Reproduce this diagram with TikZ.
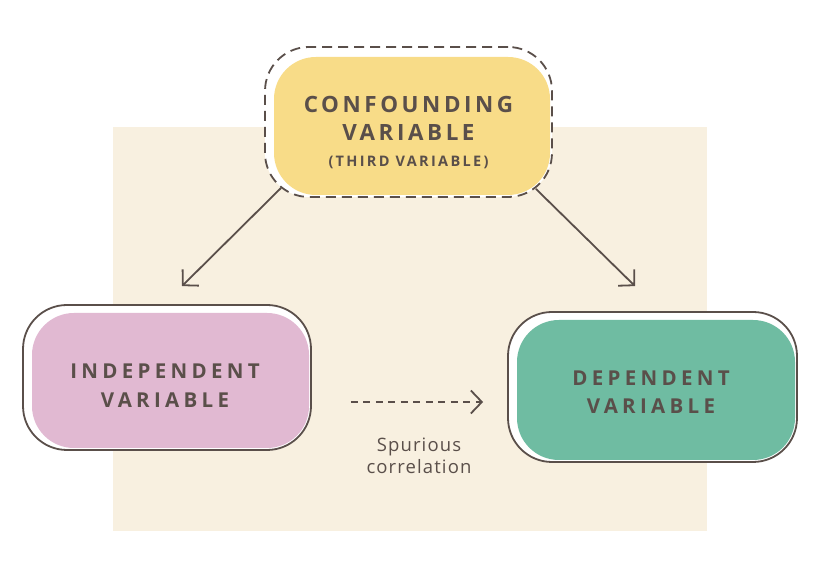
\documentclass[tikz,border=0pt]{standalone}
\usepackage{fontspec}
\setmainfont{Open Sans}
\newfontfamily\capsfont[LetterSpace=16]{Open Sans}
\newfontfamily\widecapsfont[LetterSpace=21]{Open Sans}
\newfontfamily\notefont[LetterSpace=6]{Open Sans}
\usepackage{xcolor}
\usepackage{tikz}
\usetikzlibrary{shapes.geometric, arrows.meta, positioning, calc}
\definecolor{backcolor}{HTML}{F8F0E0}
\definecolor{confcolor}{HTML}{F8DC88}
\definecolor{indepcolor}{HTML}{E1B9D2}
\definecolor{depcolor}{HTML}{6FBCA2}
\definecolor{inkcolor}{HTML}{5A4F4A}

\begin{document}
\begin{tikzpicture}[
    x=1pt, y=1pt,
    boxfill/.style={rounded corners=42pt, inner sep=0pt},
    boxline/.style={draw=inkcolor, fill=white, line width=1.8pt, rounded corners=44pt, inner sep=0pt},
    captext/.style={text=inkcolor, align=center, font=\widecapsfont\bfseries\fontsize{20.5}{28.5}\selectfont},
    flow/.style={-{Straight Barb[length=11pt, width=23pt]}, line width=1.8pt, inkcolor},
    spurious/.style={-{Straight Barb[length=11pt, width=23pt]}, line width=1.8pt, inkcolor, dash pattern=on 7pt off 5.5pt}
]
    \useasboundingbox (0,0) rectangle (822,564);
    \fill[backcolor] (113,33) rectangle (707,437);

    % confounding variable
    \node[boxline, dash pattern=on 10pt off 6pt, minimum width=287pt, minimum height=150pt] (conf) at (408.5,442) {};
    \node[boxfill, fill=confcolor, minimum width=276pt, minimum height=138pt] (conffill) at (412,438) {};
    \node[captext, font=\capsfont\bfseries\fontsize{22.4}{28}\selectfont] (conftext) at (408.5,431)
        {CONFOUNDING\\ VARIABLE\\[-2pt] {\fontsize{14.5}{17}\selectfont (THIRD VARIABLE)}};

    % independent variable
    \node[boxline, minimum width=288pt, minimum height=145pt] (indep) at (167,186.5) {};
    \node[boxfill, fill=indepcolor, minimum width=277pt, minimum height=135pt] (indepfill) at (170.5,183.5) {};
    \node[captext] (indeptext) at (165,178.5) {INDEPENDENT\\ VARIABLE};

    % dependent variable
    \node[boxline, minimum width=289pt, minimum height=150pt] (dep) at (652.5,177) {};
    \node[boxfill, fill=depcolor, minimum width=278pt, minimum height=140pt] (depfill) at (656,174) {};
    \node[captext] (deptext) at (651,172) {DEPENDENT\\ VARIABLE};

    \node[text=inkcolor, align=center, font=\notefont\fontsize{18.5}{22}\selectfont] (note) at (419,108) {Spurious\\ correlation};

    \draw[flow] ($(conf.south west)+(17,10)$) -- ($(indep.north)+(15,18)$);
    \draw[flow] ($(conf.south east)+(-17,9)$) -- ($(dep.north)+(-17.5,25)$);
    \draw[spurious] ($(indep.east)+(39,-24.5)$) -- ($(dep.west)+(-24,-15)$);
\end{tikzpicture}
\end{document}
